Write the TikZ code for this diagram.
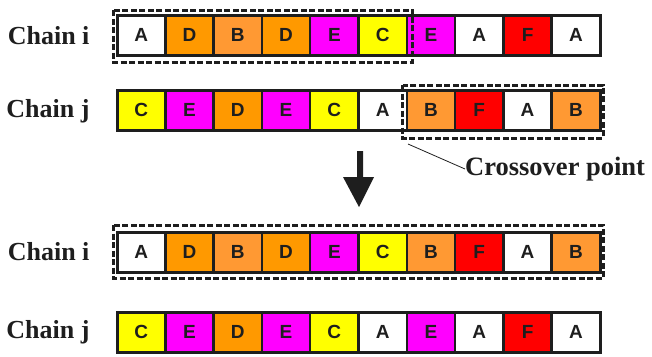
\documentclass[tikz,border=0pt]{standalone}
\usepackage{fontspec}
\setmainfont{Liberation Serif}
\newfontfamily\cellfont{Liberation Sans}
\definecolor{cW}{HTML}{FFFFFF}
\definecolor{cD}{HTML}{FF9900}
\definecolor{cB}{HTML}{FF9933}
\definecolor{cE}{HTML}{FF00FF}
\definecolor{cC}{HTML}{FFFF00}
\definecolor{cF}{HTML}{FF0000}
\definecolor{ink}{HTML}{1E1E1E}
\tikzset{
  cell/.style={draw=ink, line width=2.5pt, minimum width=48.3pt, minimum height=40pt, inner sep=0pt, outer sep=0pt,
    font=\cellfont\bfseries\fontsize{19}{19}\selectfont, text=ink},
  chainlbl/.style={anchor=east, font=\bfseries\fontsize{26}{26}\selectfont, text=ink},
  selbox/.style={draw=ink, line width=3pt, dash pattern=on 6pt off 2.5pt},
  outerbox/.style={draw=ink, line width=3pt},
}
\begin{document}
\begin{tikzpicture}[x=1pt,y=-1pt]
\useasboundingbox (0,0) rectangle (652,356);
\foreach \L/\C [count=\k] in {A/W,D/D,B/B,D/D,E/E,C/C,E/E,A/W,F/F,A/W}{
  \node[cell, fill=c\C] (a\k) at ({117+48.3*(\k-0.5)},35) {\L};
}
\foreach \L/\C [count=\k] in {C/C,E/E,D/D,E/E,C/C,A/W,B/B,F/F,A/W,B/B}{
  \node[cell, fill=c\C] (b\k) at ({117+48.3*(\k-0.5)},110) {\L};
}
\foreach \L/\C [count=\k] in {A/W,D/D,B/B,D/D,E/E,C/C,B/B,F/F,A/W,B/B}{
  \node[cell, fill=c\C] (c\k) at ({117+48.3*(\k-0.5)},252) {\L};
}
\foreach \L/\C [count=\k] in {C/C,E/E,D/D,E/E,C/C,A/W,E/E,A/W,F/F,A/W}{
  \node[cell, fill=c\C] (d\k) at ({117+48.3*(\k-0.5)},332) {\L};
}
\draw[outerbox] (a1.north west) rectangle (a10.south east);
\draw[outerbox] (b1.north west) rectangle (b10.south east);
\draw[outerbox] (c1.north west) rectangle (c10.south east);
\draw[outerbox] (d1.north west) rectangle (d10.south east);
% selection boxes
\draw[selbox] ([shift={(-4,-5)}]a1.north west) rectangle ([shift={(6,7)}]a6.south east);
\draw[selbox] ([shift={(-4,-5)}]b7.north west) rectangle ([shift={(3,8)}]b10.south east);
\draw[selbox] ([shift={(-4,-7)}]c1.north west) rectangle ([shift={(3,6)}]c10.south east);
% labels
\node[chainlbl] (li1) at (93,36) {Chain i};
\node[chainlbl] (lj1) at (93,111) {Chain j};
\node[chainlbl] (li2) at (93,252) {Chain i};
\node[chainlbl] (lj2) at (93,332) {Chain j};
% crossover label
\node[anchor=west, font=\bfseries\fontsize{26.5}{26.5}\selectfont, text=ink, inner sep=0pt] (xo) at (465,169) {Crossover point};
\coordinate (xp) at (408,144);
\draw[ink, line width=0.8pt] (xp) -- (xo.west);
% big arrow
\coordinate (arTip) at (359,207);
\fill[ink] (357,151) -- (363,151) -- (363,177) -- (374,177) -- (arTip) -- (343,177) -- (357,177) -- cycle;
\end{tikzpicture}
\end{document}
